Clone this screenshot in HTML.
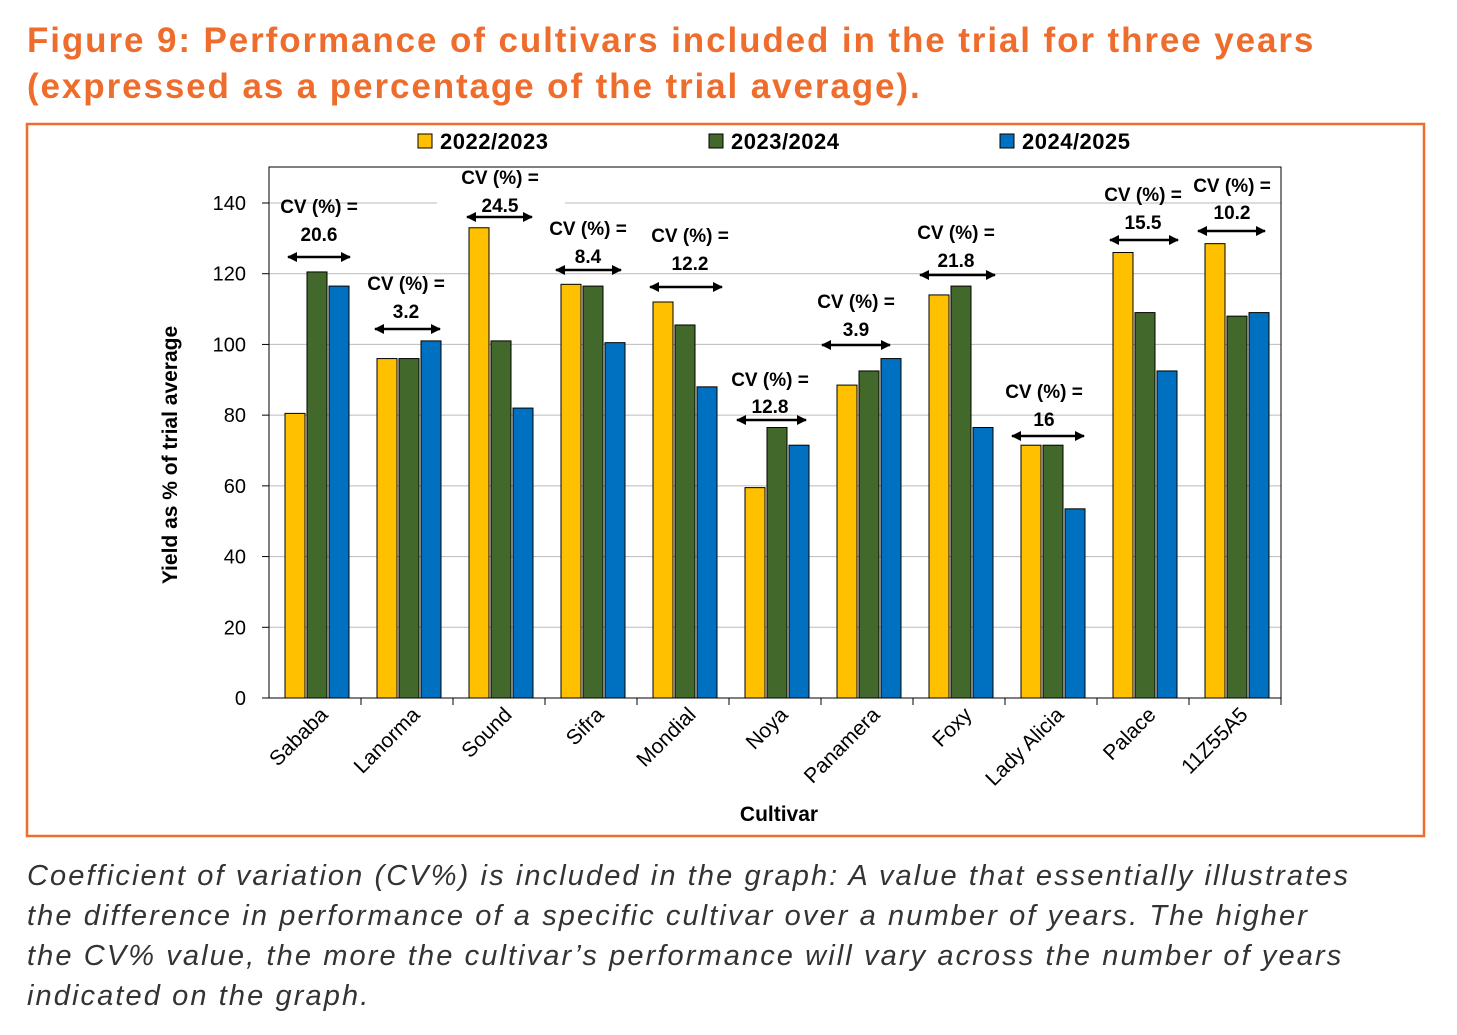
<!DOCTYPE html>
<html><head><meta charset="utf-8"><style>
body{margin:0;background:#fff;width:1457px;height:1035px;overflow:hidden;font-family:"Liberation Sans",sans-serif}
.t{position:absolute;left:27px;top:18px;color:#ef6d2c;font-weight:bold;font-size:35px;line-height:46px;letter-spacing:1.9px}
.c{position:absolute;left:27px;top:856px;color:#333;font-style:italic;font-size:29px;line-height:40px;letter-spacing:2.1px}
</style></head><body>
<div class="t">Figure 9: Performance of cultivars included in the trial for three years<br>(expressed as a percentage of the trial average).</div>
<svg style="position:absolute;left:0;top:0" width="1457" height="1035" font-family="Liberation Sans, sans-serif">
<defs><marker id="a" viewBox="0 0 10 10" refX="9" refY="5" markerWidth="4" markerHeight="4" orient="auto-start-reverse"><path d="M0,0L10,5L0,10z" fill="#000"/></marker></defs>
<rect x="27" y="124" width="1397" height="712" fill="none" stroke="#ef6d2c" stroke-width="2.5"/>
<g id="grid"></g>
<g id="bars"></g>
<rect x="269" y="167" width="1012" height="531" fill="none" stroke="#000" stroke-width="1"/>
<g font-weight="bold" font-size="22" letter-spacing="0.5">
<rect x="418" y="134" width="14" height="14" fill="#ffc000" stroke="#000"/><text x="440" y="149">2022/2023</text>
<rect x="709" y="134" width="14" height="14" fill="#43682b" stroke="#000"/><text x="731" y="149">2023/2024</text>
<rect x="1000" y="134" width="14" height="14" fill="#0070c0" stroke="#000"/><text x="1022" y="149">2024/2025</text>
</g>
<text x="779" y="821" font-size="21" font-weight="bold" text-anchor="middle">Cultivar</text>
<text transform="translate(177,455) rotate(-90)" font-size="21" font-weight="bold" text-anchor="middle">Yield as % of trial average</text>
<g id="cv"></g>
</svg>
<div class="c">Coefficient of variation (CV%) is included in the graph: A value that essentially illustrates<br>the difference in performance of a specific cultivar over a number of years. The higher<br>the CV% value, the more the cultivar’s performance will vary across the number of years<br>indicated on the graph.</div>
<script>
const NS="http://www.w3.org/2000/svg";
function el(p,t,a,txt){const e=document.createElementNS(NS,t);for(const k in a)e.setAttribute(k,a[k]);if(txt!==undefined)e.textContent=txt;document.getElementById(p).appendChild(e);return e;}
const y0=698,k=495/140;
for(let v=0;v<=140;v+=20){const y=y0-v*k;
 if(v>0)el("grid","line",{x1:269,x2:1281,y1:y,y2:y,stroke:"#bbb","stroke-width":1});
 el("grid","line",{x1:262,x2:269,y1:y,y2:y,stroke:"#000"});
 el("grid","text",{x:246,y:y+7,"font-size":20,"text-anchor":"end"},v);}
el("grid","rect",{x:437,y:196,width:128,height:14,fill:"#fff"});
const names=["Sababa","Lanorma","Sound","Sifra","Mondial","Noya","Panamera","Foxy","Lady Alicia","Palace","11Z55A5"];
const d=[[80.5,120.5,116.5],[96,96,101],[133,101,82],[117,116.5,100.5],[112,105.5,88],[59.5,76.5,71.5],[88.5,92.5,96],[114,116.5,76.5],[71.5,71.5,53.5],[126,109,92.5],[128.5,108,109]];
const col=["#ffc000","#43682b","#0070c0"];const gw=1012/11;
d.forEach((g,i)=>{const gx=269+i*gw;
 g.forEach((v,j)=>el("bars","rect",{x:gx+16+j*22,y:y0-v*k,width:20,height:v*k,fill:col[j],stroke:"#000","stroke-width":1}));
 el("bars","line",{x1:gx+gw,x2:gx+gw,y1:698,y2:705,stroke:"#000"});
 const cx=gx+gw/2+14;
 el("bars","text",{transform:`translate(${cx},716) rotate(-45)`,"font-size":21,"text-anchor":"end"},names[i]);
});
const cv=[[319,213,241,257,288,350,"20.6"],[406,290,318,329,375,440,"3.2"],[500,184,212,217,467,532,"24.5"],[588,235,263,270,556,621,"8.4"],[690,242,270,287,650,722,"12.2"],[770,386,413,420,737,806,"12.8"],[856,308,336,345,822,890,"3.9"],[956,239,267,275,920,995,"21.8"],[1044,398,426,436,1012,1084,"16"],[1143,201,229,240,1110,1178,"15.5"],[1232,192,219,231,1198,1265,"10.2"]];
cv.forEach(c=>{el("cv","text",{x:c[0],y:c[1],"font-size":19,"font-weight":"bold","text-anchor":"middle"},"CV (%) =");
 el("cv","text",{x:c[0],y:c[2],"font-size":19,"font-weight":"bold","text-anchor":"middle"},c[6]);
 el("cv","line",{x1:c[4],x2:c[5],y1:c[3],y2:c[3],stroke:"#000","stroke-width":2.5,"marker-start":"url(#a)","marker-end":"url(#a)"});});
</script>
</body></html>
